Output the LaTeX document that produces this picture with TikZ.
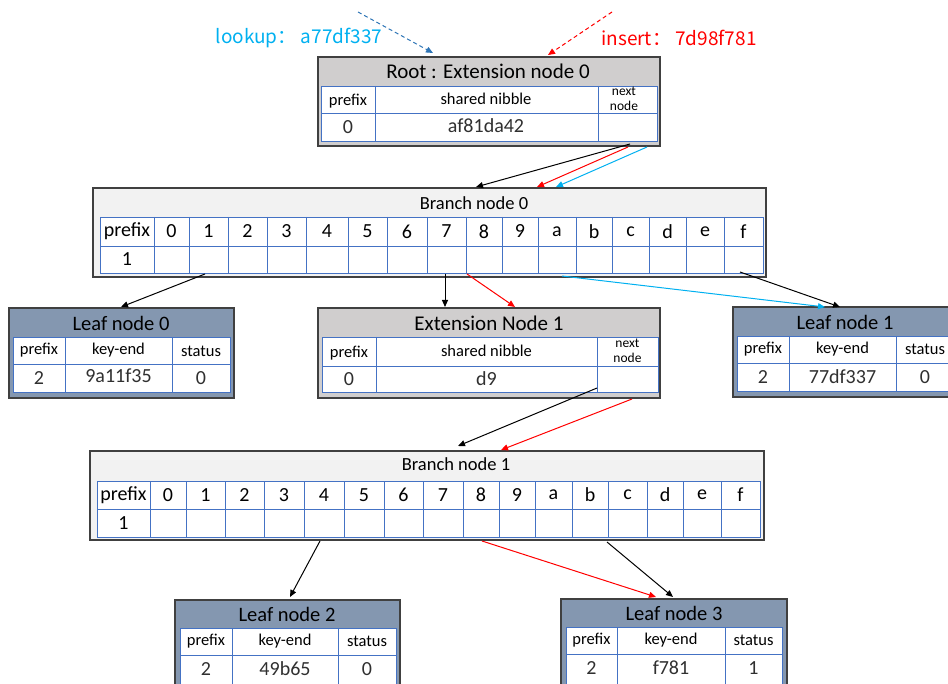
\documentclass[tikz,border=0pt]{standalone}
\usepackage{fontspec}
\setmainfont{Carlito}
\newfontfamily\cjk{Noto Sans CJK SC}
\usetikzlibrary{arrows.meta,fit}
\definecolor{hdrgray}{HTML}{D0CECE}
\definecolor{brgray}{HTML}{F2F2F2}
\definecolor{leafblue}{HTML}{8497B0}
\definecolor{cellblue}{HTML}{4472C4}
\definecolor{boxedge}{HTML}{404040}
\definecolor{lkblue}{HTML}{00B0F0}
\definecolor{dashblue}{HTML}{2E75B6}
\definecolor{valgray}{HTML}{303030}
\tikzset{
  conn/.style={line width=1pt,-{Triangle[length=7pt,width=6pt]}},
  cellline/.style={draw=cellblue,line width=0.9pt},
  greybox/.style={draw=boxedge,line width=1.5pt,fill=hdrgray,inner sep=0pt,outer sep=0pt},
  branchbox/.style={draw=boxedge,line width=1.2pt,fill=brgray,inner sep=0pt,outer sep=0pt},
  leafbox/.style={draw=boxedge,line width=1.5pt,fill=leafblue,inner sep=0pt,outer sep=0pt},
  ttl/.style={inner sep=0pt,font=\fontsize{21}{23}\selectfont},
  bttl/.style={inner sep=0pt,font=\fontsize{18.5}{20}\selectfont},
  lttl/.style={inner sep=0pt,font=\fontsize{20.5}{22}\selectfont},
  lbl/.style={inner sep=0pt,font=\fontsize{16.5}{18}\selectfont},
  blbl/.style={inner sep=0pt,font=\fontsize{20}{22}\selectfont},
  small/.style={inner sep=0pt,align=center,font=\fontsize{13.5}{15}\selectfont},
  val/.style={inner sep=0pt,text=valgray,font=\fontsize{20}{22}\selectfont},
}
% #1 x-left, #2 x-right, #3 y-top, #4 y-split, #5 y-bottom, #6 inner x list
\newcommand\gtable[6]{%
  \fill[white] (#1,#3) rectangle (#2,#5);
  \draw[cellline] (#1,#3) rectangle (#2,#5) (#1,#4) -- (#2,#4);
  \foreach \x in {#6} \draw[cellline] (\x,#3) -- (\x,#5);
}
\begin{document}
\begin{tikzpicture}[x=1pt,y=-1pt]
\useasboundingbox (0,0) rectangle (948,684);
\clip (0,0) rectangle (948,684);

% ---------- Root : Extension node 0 ----------
\node[greybox,fit={(318,57) (660,146)}] (root) {};
\node[ttl] (roott) at (488,71) {Root : Extension node 0};
\gtable{321}{657}{86}{113}{141}{375,598}
\node[lbl] (rooth1) at (348,101) {prefix};
\node[lbl] (rooth2) at (486,99) {shared nibble};
\node[small] (rooth3) at (624,99) {next\\node};
\node[val] (rootv1) at (348,127) {0};
\node[val] (rootv2) at (486,126) {af81da42};

% ---------- lookup / insert ----------
\node[inner sep=0pt,text=lkblue,font=\cjk\fontsize{19}{21}\selectfont] (lookup) at (299,38) {lookup： a77df337};
\node[inner sep=0pt,text=red,font=\cjk\fontsize{19}{21}\selectfont] (insert) at (679,38) {insert： 7d98f781};

% ---------- Branch node 0 ----------
\node[branchbox,fit={(93,188) (766,277)}] (br0) {};
\node[bttl] (br0t) at (474,203) {Branch node 0};
\gtable{100}{763}{217}{246}{273}{154,189,228,267,306,348,387,427,466,502,538,576,612,649,686,724}
\foreach \a/\b/\t [count=\i] in {100/154/prefix,154/189/0,189/228/1,228/267/2,267/306/3,306/348/4,348/387/5,387/427/6,427/466/7,466/502/8,502/538/9,538/576/a,576/612/b,612/649/c,649/686/d,686/724/e,724/763/f}
  \node[blbl] (br0h\i) at ({(\a+\b)/2},231.5) {\t};
\node[blbl] (br0v1) at (127,259.5) {1};

% ---------- Leaf node 0 ----------
\node[leafbox,fit={(9,308) (234,398)}] (leaf0) {};
\node[lttl] (leaf0t) at (121,323) {Leaf node 0};
\gtable{13}{230}{337}{364}{392}{65,172}
\node[lbl] (leaf0h1) at (39,350) {prefix};
\node[lbl] (leaf0h2) at (118.5,350) {key-end};
\node[lbl] (leaf0h3) at (201,351) {status};
\node[val] (leaf0v1) at (39,378) {2};
\node[val] (leaf0v2) at (118.5,376) {9a11f35};
\node[val] (leaf0v3) at (201,378) {0};

% ---------- Extension Node 1 ----------
\node[greybox,fit={(318,308) (660,398)}] (ext1) {};
\node[ttl] (ext1t) at (489,323) {Extension Node 1};
\gtable{322}{658}{337}{366}{392}{376,597}
\node[lbl] (ext1h1) at (349,353) {prefix};
\node[lbl] (ext1h2) at (486.5,351) {shared nibble};
\node[small] (ext1h3) at (627.5,351) {next\\node};
\node[val] (ext1v1) at (349,379) {0};
\node[val] (ext1v2) at (486.5,379) {d9};

% ---------- Leaf node 1 ----------
\node[leafbox,fit={(733,307) (958,397)}] (leaf1) {};
\node[lttl] (leaf1t) at (845,322) {Leaf node 1};
\gtable{737}{954}{336}{363}{391}{789,896}
\node[lbl] (leaf1h1) at (763,349) {prefix};
\node[lbl] (leaf1h2) at (842.5,349) {key-end};
\node[lbl] (leaf1h3) at (925,349) {status};
\node[val] (leaf1v1) at (763,377) {2};
\node[val] (leaf1v2) at (842.5,377) {77df337};
\node[val] (leaf1v3) at (925,377) {0};

% ---------- Branch node 1 ----------
\node[branchbox,fit={(90,451) (764,540)}] (br1) {};
\node[bttl] (br1t) at (456,464) {Branch node 1};
\gtable{97}{760}{481}{509}{537}{150,186,225,264,304,344,384,423,463,499,535,572,608,647,683,721}
\foreach \a/\b/\t [count=\i] in {97/150/prefix,150/186/0,186/225/1,225/264/2,264/304/3,304/344/4,344/384/5,384/423/6,423/463/7,463/499/8,499/535/9,535/572/a,572/608/b,608/647/c,647/683/d,683/721/e,721/760/f}
  \node[blbl] (br1h\i) at ({(\a+\b)/2},495) {\t};
\node[blbl] (br1v1) at (123.5,523) {1};

% ---------- Leaf node 2 ----------
\node[leafbox,fit={(175,600) (400,692)}] (leaf2) {};
\node[lttl] (leaf2t) at (287,614) {Leaf node 2};
\gtable{180}{396}{628}{655}{686}{232,338}
\node[lbl] (leaf2h1) at (206,641) {prefix};
\node[lbl] (leaf2h2) at (285,641) {key-end};
\node[lbl] (leaf2h3) at (367,641) {status};
\node[val] (leaf2v1) at (206,669) {2};
\node[val] (leaf2v2) at (285,669) {49b65};
\node[val] (leaf2v3) at (367,669) {0};

% ---------- Leaf node 3 ----------
\node[leafbox,fit={(561,599) (787,692)}] (leaf3) {};
\node[lttl] (leaf3t) at (674,613) {Leaf node 3};
\gtable{566}{782}{627}{654}{686}{617,725}
\node[lbl] (leaf3h1) at (591.5,640) {prefix};
\node[lbl] (leaf3h2) at (671,640) {key-end};
\node[lbl] (leaf3h3) at (753.5,640) {status};
\node[val] (leaf3v1) at (591.5,668) {2};
\node[val] (leaf3v2) at (671,668) {f781};
\node[val] (leaf3v3) at (753.5,668) {1};

% ---------- connector end points ----------
\coordinate (lkS) at (358,12);  \coordinate (lkE) at (433,53);
\coordinate (inS) at (612,12);  \coordinate (inE) at (548,55);
\coordinate (r0k) at (630,144); \coordinate (b0k) at (476,187);
\coordinate (r0r) at (628,147); \coordinate (b0r) at (537,187);
\coordinate (r0b) at (647,147); \coordinate (b0b) at (556,187);
\coordinate (b0o1) at (205,274); \coordinate (l0i) at (121,307);
\coordinate (b0o7) at (445,274); \coordinate (e1ik) at (445,307);
\coordinate (b0o8) at (467,274); \coordinate (e1ir) at (515,307);
\coordinate (b0oa) at (562,276); \coordinate (l1ib) at (825,307);
\coordinate (b0of) at (740,272); \coordinate (l1ik) at (840,307);
\coordinate (e1ok) at (597,388); \coordinate (b1ik) at (458,446);
\coordinate (e1or) at (632,399); \coordinate (b1ir) at (501,450);
\coordinate (b1o4) at (320,541); \coordinate (l2i) at (290,597);
\coordinate (b1o8) at (482,541); \coordinate (l3ir) at (656,597);
\coordinate (b1oc) at (607,542); \coordinate (l3ik) at (673,597);

% ---------- connectors ----------
\draw[conn,dashed,dash pattern=on 4pt off 3pt,dashblue] (lkS) -- (lkE);
\draw[conn,dashed,dash pattern=on 4pt off 3pt,red] (inS) -- (inE);
\draw[conn,black] (r0k) -- (b0k);
\draw[conn,red] (r0r) -- (b0r);
\draw[conn,lkblue] (r0b) -- (b0b);
\draw[conn,black] (b0o1) -- (l0i);
\draw[conn,black] (b0o7) -- (e1ik);
\draw[conn,red] (b0o8) -- (e1ir);
\draw[conn,lkblue] (b0oa) -- (l1ib);
\draw[conn,black] (b0of) -- (l1ik);
\draw[conn,black] (e1ok) -- (b1ik);
\draw[conn,red] (e1or) -- (b1ir);
\draw[conn,black] (b1o4) -- (l2i);
\draw[conn,red] (b1o8) -- (l3ir);
\draw[conn,black] (b1oc) -- (l3ik);
\end{tikzpicture}
\end{document}
